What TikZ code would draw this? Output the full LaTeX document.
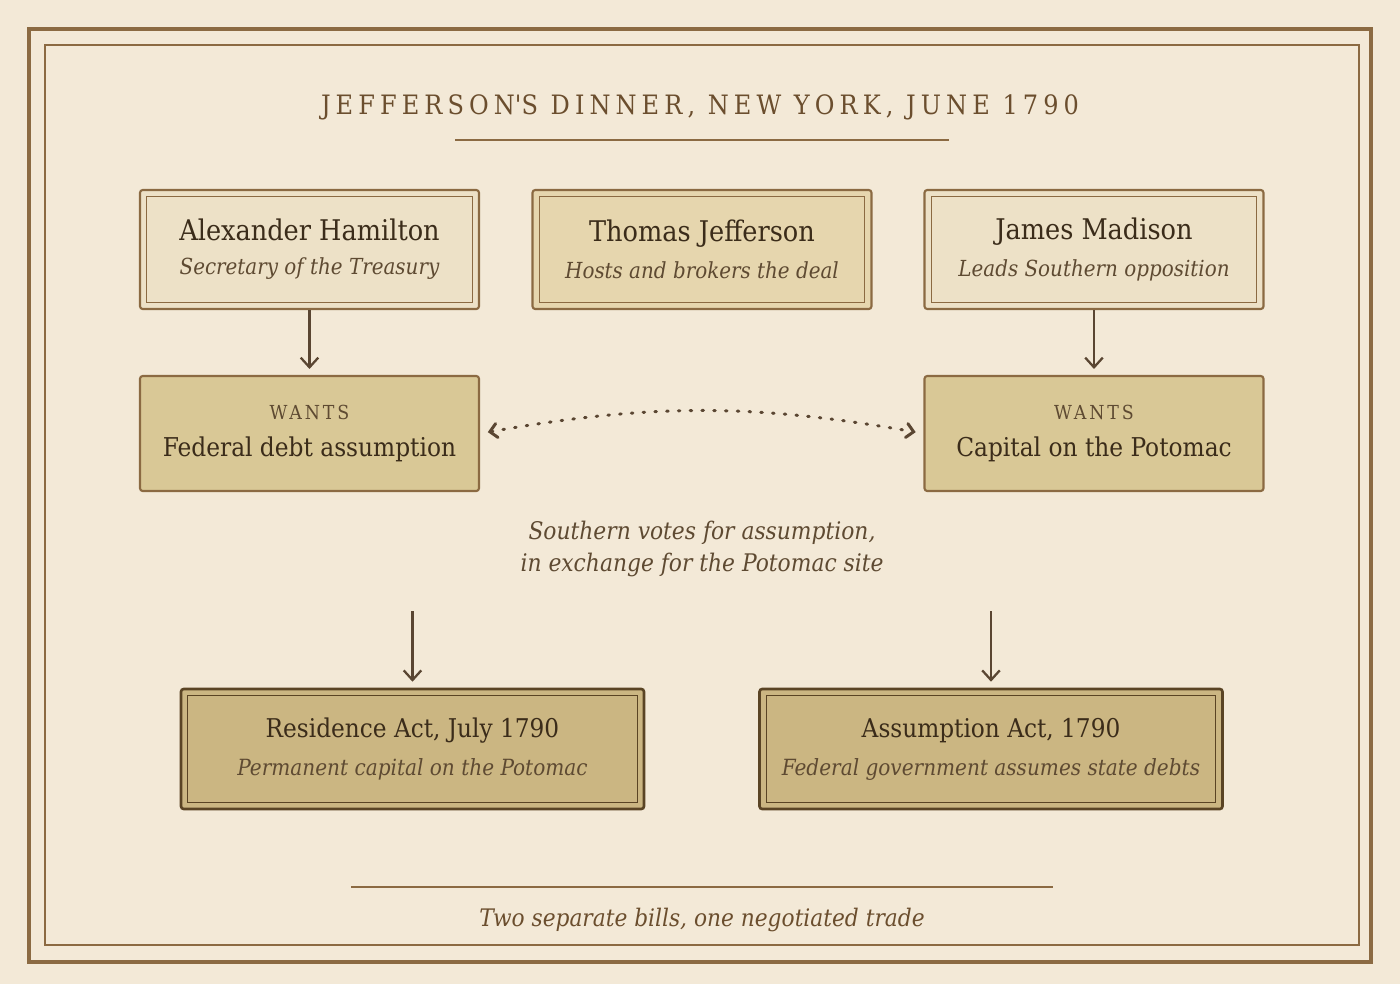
\documentclass[tikz,border=0pt]{standalone}
\usepackage{fontspec}
\setmainfont{DejaVu Serif Condensed}
\usetikzlibrary{arrows.meta}

\definecolor{paper}{HTML}{F3E9D7}
\definecolor{frame}{HTML}{8B6A42}
\definecolor{ink}{HTML}{3B2C1A}
\definecolor{subink}{HTML}{5E4A32}
\definecolor{titleink}{HTML}{6B4E2E}
\definecolor{lightfill}{HTML}{EDE1C7}
\definecolor{hostfill}{HTML}{E6D6AE}
\definecolor{wantfill}{HTML}{D9C896}
\definecolor{actfill}{HTML}{CBB682}
\definecolor{actline}{HTML}{5A4424}
\definecolor{arrowink}{HTML}{5A4632}

\newcommand{\who}[2]{{\fontsize{16.2}{19}\selectfont\color{ink}#1}\\[7.5pt]{\fontsize{12.6}{19}\selectfont\itshape\color{subink}#2}}
\newcommand{\wants}[1]{{\fontsize{11}{22}\selectfont\addfontfeatures{LetterSpace=15}\color{subink}WANTS}\\[9pt]{\fontsize{14.75}{22}\selectfont\color{ink}#1}}
\newcommand{\act}[2]{{\fontsize{14.7}{21}\selectfont\color{ink}#1}\\[8pt]{\fontsize{12.7}{21}\selectfont\itshape\color{subink}#2}}

\begin{document}
\begin{tikzpicture}[x=0.02cm,y=-0.02cm,
    person/.style={draw=frame, line width=1.2pt, fill=lightfill, rounded corners=1.5pt,
        minimum width=6.78cm, minimum height=2.38cm, align=center, inner sep=0pt},
    host/.style={person, fill=hostfill},
    goal/.style={draw=frame, line width=1.2pt, fill=wantfill, rounded corners=1.5pt,
        minimum width=6.78cm, minimum height=2.30cm, align=center, inner sep=0pt},
    law/.style={draw=actline, line width=1.5pt, fill=actfill, rounded corners=1.5pt,
        minimum width=9.26cm, minimum height=2.40cm, align=center, inner sep=0pt},
    innerframe/.style={line width=0.6pt},
    flow/.style={draw=arrowink, line width=1.3pt, -{Straight Barb[length=5.5pt,width=10pt]}},
    trade/.style={draw=arrowink, line width=1.7pt, line cap=round, dash pattern=on 0.9pt off 5.8pt,
        {Straight Barb[length=4pt,width=8pt,line cap=round]}-{Straight Barb[length=4pt,width=8pt,line cap=round]}}
]
    \fill[paper] (0,0) rectangle (1400,984);
    \useasboundingbox (0,0) rectangle (1400,984);

    % frame
    \draw[frame, line width=2.3pt] (29,29) rectangle (1371,962);
    \draw[frame, line width=0.85pt] (45,45) rectangle (1359,945);

    % title
    \node[titleink, font=\fontsize{15.2}{17}\selectfont\addfontfeatures{LetterSpace=19}] (title) at (700,107)
        {JEFFERSON\textquotesingle S DINNER, NEW YORK, JUNE 1790};
    \draw[frame, line width=0.85pt] (455,140) -- (949,140);

    % people
    \node[person] (ham) at (309.5,249.5) {\who{Alexander Hamilton}{Secretary of the Treasury}};
    \node[host] (jef) at (702,249.5) {\who{Thomas Jefferson}{Hosts and brokers the deal}};
    \node[person] (mad) at (1094,249.5) {\who{James Madison}{Leads Southern opposition}};
    \draw[innerframe, frame] ([xshift=4.5pt,yshift=-4.5pt]ham.north west) rectangle ([xshift=-4.5pt,yshift=4.5pt]ham.south east);
    \draw[innerframe, frame] ([xshift=4.5pt,yshift=-4.5pt]jef.north west) rectangle ([xshift=-4.5pt,yshift=4.5pt]jef.south east);
    \draw[innerframe, frame] ([xshift=4.5pt,yshift=-4.5pt]mad.north west) rectangle ([xshift=-4.5pt,yshift=4.5pt]mad.south east);

    % what each side wants
    \node[goal] (wantL) at (309.5,433.5) {\wants{Federal debt assumption}};
    \node[goal] (wantR) at (1094,433.5) {\wants{Capital on the Potomac}};

    \draw[flow, shorten >=3.4pt] (ham) -- (wantL);
    \draw[flow, shorten >=3.4pt] (mad) -- (wantR);
    \draw[trade, shorten <=4.5pt, shorten >=4.5pt] (wantL.east) to[bend left=10] (wantR.west);

    \node[subink, align=center, font=\fontsize{13.8}{18.7}\selectfont\itshape] (deal) at (702,549)
        {Southern votes for assumption,\\in exchange for the Potomac site};

    % the two bills
    \node[law] (res) at (412.5,749) {\act{Residence Act, July 1790}{Permanent capital on the Potomac}};
    \node[law] (ass) at (991,749) {\act{Assumption Act, 1790}{Federal government assumes state debts}};
    \draw[innerframe, actline] ([xshift=4.5pt,yshift=-4.5pt]res.north west) rectangle ([xshift=-4.5pt,yshift=4.5pt]res.south east);
    \draw[innerframe, actline] ([xshift=4.5pt,yshift=-4.5pt]ass.north west) rectangle ([xshift=-4.5pt,yshift=4.5pt]ass.south east);

    \coordinate (resTop) at (412.5,611);
    \coordinate (assTop) at (991,611);
    \draw[flow, shorten >=3.4pt] (resTop) -- (res);
    \draw[flow, shorten >=3.4pt] (assTop) -- (ass);

    % footer
    \draw[frame, line width=0.85pt] (351,887) -- (1053,887);
    \node[titleink, font=\fontsize{13.75}{16}\selectfont\itshape] (foot) at (702,920)
        {Two separate bills, one negotiated trade};
\end{tikzpicture}
\end{document}
